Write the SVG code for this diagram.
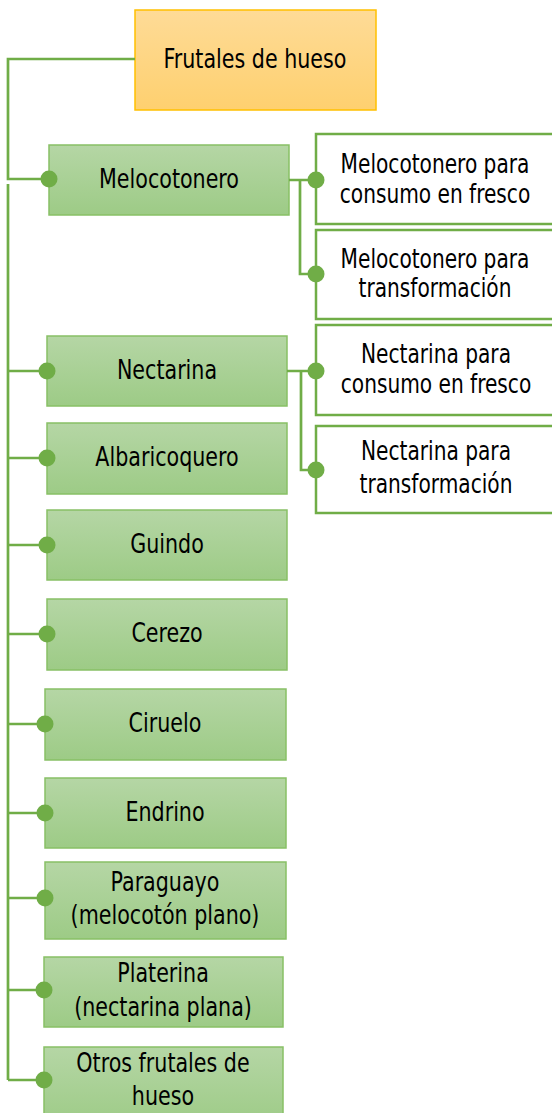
<svg xmlns="http://www.w3.org/2000/svg" width="552" height="1113" viewBox="0 0 552 1113">
<defs>
<linearGradient id="gG" x1="0" y1="0" x2="0" y2="1"><stop offset="0" stop-color="#b5d6a5"/><stop offset="1" stop-color="#9dcb86"/></linearGradient>
<linearGradient id="gO" x1="0" y1="0" x2="0" y2="1"><stop offset="0" stop-color="#fedb97"/><stop offset="1" stop-color="#fed06f"/></linearGradient>
</defs>
<style>
text{font-family:"DejaVu Sans Condensed","DejaVu Sans",sans-serif;font-size:27px;fill:#000;text-anchor:middle}
.g{fill:url(#gG);stroke:#88c065;stroke-width:1.5}
.w{fill:#fff;stroke:#70ad47;stroke-width:2.5}
.o{fill:url(#gO);stroke:#ffc000;stroke-width:1.5}
.c{fill:none;stroke:#70ad47;stroke-width:2.7}
.d{fill:#70ad47}
</style>
<g id="root"><rect class="o" x="135" y="10" width="241" height="100"/><text transform="translate(255,68) scale(0.85,1)">Frutales de hueso</text></g>
<g id="melocotonero"><rect class="g" x="49" y="145" width="240" height="70"/><text transform="translate(169,188) scale(0.85,1)">Melocotonero</text></g>
<g id="mel-fresco"><rect class="w" x="316" y="134" width="240" height="90"/><text transform="translate(435,173) scale(0.83,1)">Melocotonero para</text><text transform="translate(435,203) scale(0.83,1)">consumo en fresco</text></g>
<g id="mel-transf"><rect class="w" x="316" y="230" width="240" height="89"/><text transform="translate(435,268) scale(0.83,1)">Melocotonero para</text><text transform="translate(435,297) scale(0.83,1)">transformación</text></g>
<g id="nectarina"><rect class="g" x="47" y="336" width="240" height="70"/><text transform="translate(167,379) scale(0.85,1)">Nectarina</text></g>
<g id="nec-fresco"><rect class="w" x="316" y="325" width="240" height="90"/><text transform="translate(436,363) scale(0.83,1)">Nectarina para</text><text transform="translate(436,393) scale(0.83,1)">consumo en fresco</text></g>
<g id="nec-transf"><rect class="w" x="316" y="426" width="240" height="87"/><text transform="translate(436,460) scale(0.83,1)">Nectarina para</text><text transform="translate(436,493) scale(0.83,1)">transformación</text></g>
<g id="albaricoquero"><rect class="g" x="47" y="423" width="240" height="71"/><text transform="translate(167,466) scale(0.85,1)">Albaricoquero</text></g>
<g id="guindo"><rect class="g" x="47" y="510" width="240" height="70"/><text transform="translate(167,553) scale(0.85,1)">Guindo</text></g>
<g id="cerezo"><rect class="g" x="47" y="599" width="240" height="71"/><text transform="translate(167,642) scale(0.85,1)">Cerezo</text></g>
<g id="ciruelo"><rect class="g" x="45" y="689" width="241" height="71"/><text transform="translate(165,732) scale(0.85,1)">Ciruelo</text></g>
<g id="endrino"><rect class="g" x="45" y="778" width="241" height="70"/><text transform="translate(165,821) scale(0.85,1)">Endrino</text></g>
<g id="paraguayo"><rect class="g" x="45" y="862" width="241" height="77"/><text transform="translate(165,891) scale(0.85,1)">Paraguayo</text><text transform="translate(165,924) scale(0.85,1)">(melocotón plano)</text></g>
<g id="platerina"><rect class="g" x="44" y="957" width="239" height="70"/><text transform="translate(163,982) scale(0.85,1)">Platerina</text><text transform="translate(163,1016) scale(0.85,1)">(nectarina plana)</text></g>
<g id="otros"><rect class="g" x="44" y="1047" width="239" height="80"/><text transform="translate(163,1072) scale(0.85,1)">Otros frutales de</text><text transform="translate(163,1105) scale(0.85,1)">hueso</text></g>
<g id="connectors">
<path class="c" d="M135,59 H8 V179 H49"/>
<path class="c" d="M8,184 V1080"/>
<path class="c" d="M8,371 H47 M8,458 H47 M8,545 H47 M8,634 H47 M8,724 H45 M8,813 H45 M8,898 H45 M8,990 H44 M8,1080 H44"/>
<path class="c" d="M289,180 H316 M300,180 V274 H316"/>
<path class="c" d="M287,371 H316 M301,371 V470 H316"/>
<circle class="d" cx="49" cy="179" r="8.5"/>
<circle class="d" cx="47" cy="371" r="8.5"/>
<circle class="d" cx="47" cy="458" r="8.5"/>
<circle class="d" cx="47" cy="545" r="8.5"/>
<circle class="d" cx="47" cy="634" r="8.5"/>
<circle class="d" cx="45" cy="724" r="8.5"/>
<circle class="d" cx="45" cy="813" r="8.5"/>
<circle class="d" cx="45" cy="898" r="8.5"/>
<circle class="d" cx="44" cy="990" r="8.5"/>
<circle class="d" cx="44" cy="1080" r="8.5"/>
<circle class="d" cx="316" cy="180" r="8.5"/>
<circle class="d" cx="316" cy="274" r="8.5"/>
<circle class="d" cx="316" cy="371" r="8.5"/>
<circle class="d" cx="316" cy="470" r="8.5"/>
</g>
</svg>
